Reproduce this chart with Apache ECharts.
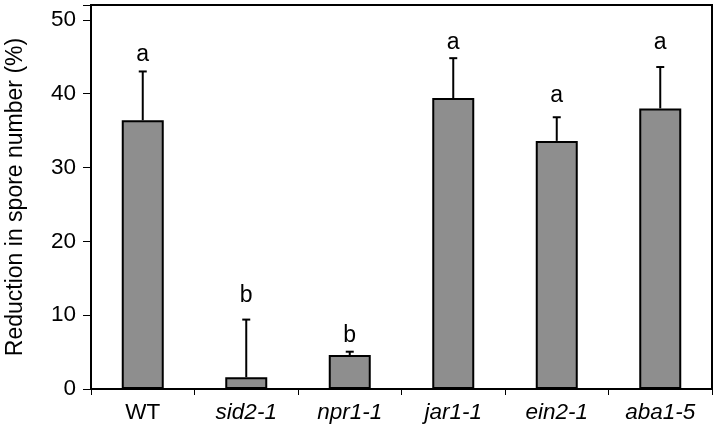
<!DOCTYPE html>
<html><head><meta charset="utf-8">
<script src="https://cdn.jsdelivr.net/npm/echarts@6/dist/echarts.min.js"></script>
<style>html,body{margin:0;padding:0;background:#fff}#c{width:717px;height:430px}</style>
</head><body><div id="c"></div>
<script>
const categories = ['WT', 'sid2-1', 'npr1-1', 'jar1-1', 'ein2-1', 'aba1-5'];
const italicCats = [false, true, true, true, true, true];
const means = [36.4, 1.6, 4.6, 39.4, 33.6, 38.0];
const errorTops = [43.0, 9.4, 5.05, 44.8, 36.8, 43.6];
const letters = ['a', 'b', 'b', 'a', 'a', 'a'];
const letterPos = [45.3, 12.6, 7.2, 46.9, 39.7, 46.9];
const yTicks = [0, 10, 20, 30, 40, 50];

const chart = echarts.init(document.getElementById('c'), null, {renderer: 'canvas'});
const font = '"Liberation Sans", Arial, sans-serif';
chart.setOption({
  animation: false,
  backgroundColor: '#fff',
  grid: {left: 91, right: 5, top: 5, bottom: 41, show: true, borderColor: '#000', borderWidth: 2,
    backgroundColor: 'transparent', containLabel: false, outerBoundsMode: 'none'},
  xAxis: {
    type: 'category', data: categories,
    axisLine: {lineStyle: {color: '#000', width: 2}},
    axisTick: {show: true, length: 6, lineStyle: {color: '#000', width: 1}},
    axisLabel: {
      interval: 0, margin: 12, color: '#000', fontSize: 22.5, fontFamily: font,
      formatter: (v, i) => italicCats[i] ? '{it|' + v + '}' : v,
      rich: {it: {fontStyle: 'italic', fontSize: 22.5, fontFamily: font, color: '#000'}}
    },
    splitLine: {show: false}
  },
  yAxis: {
    type: 'value', min: 0, max: 52, interval: 10,
    name: 'Reduction in spore number (%)', nameLocation: 'middle', nameGap: 64,
    nameTextStyle: {fontSize: 23, fontFamily: font, color: '#000'},
    axisLine: {show: true, lineStyle: {color: '#000', width: 2}},
    axisTick: {show: true, length: 8, lineStyle: {color: '#000', width: 1}},
    axisLabel: {margin: 15, color: '#000', fontSize: 22.5, fontFamily: font,
      formatter: v => yTicks.includes(v) ? String(v) : ''},
    splitLine: {show: false}
  },
  series: [
    {
      type: 'bar', data: means, barWidth: 42,
      itemStyle: {color: '#8e8e8e', borderColor: '#000', borderWidth: 2},
      z: 2
    },
    {
      type: 'custom', z: 3,
      data: categories.map((c, i) => [i, means[i], errorTops[i]]),
      renderItem: (params, api) => {
        const b = api.coord([api.value(0), api.value(1)]);
        const t = api.coord([api.value(0), api.value(2)]);
        return {type: 'group', children: [
          {type: 'line', shape: {x1: b[0], y1: b[1], x2: t[0], y2: t[1]}, style: {stroke: '#000', lineWidth: 2}},
          {type: 'line', shape: {x1: t[0] - 4, y1: t[1], x2: t[0] + 4, y2: t[1]}, style: {stroke: '#000', lineWidth: 2}}
        ]};
      }
    },
    {
      type: 'custom', z: 4,
      data: categories.map((c, i) => [i, letterPos[i]]),
      renderItem: (params, api) => {
        const p = api.coord([api.value(0), api.value(1)]);
        return {type: 'text', x: p[0], y: p[1], style: {text: letters[params.dataIndex], fill: '#000', font: '23px ' + font, align: 'center', verticalAlign: 'middle'}};
      }
    }
  ]
});
</script></body></html>
